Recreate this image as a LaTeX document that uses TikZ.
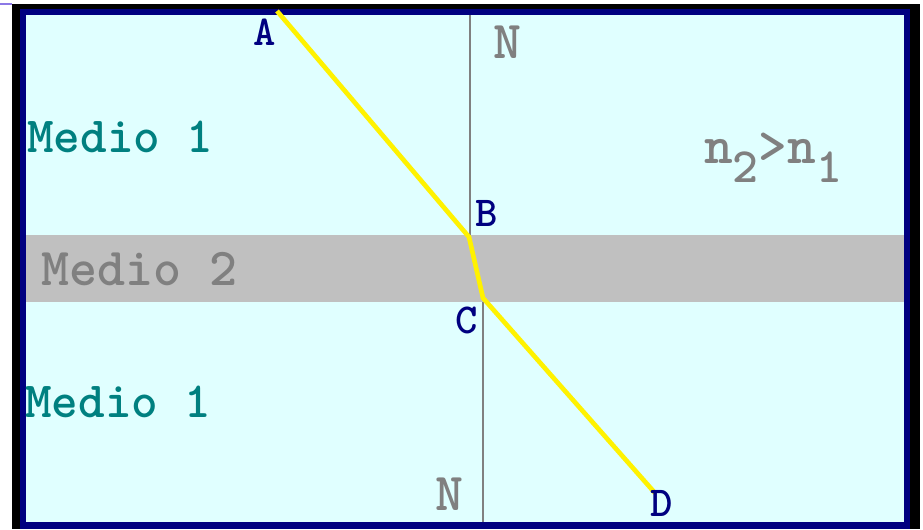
\documentclass[tikz,border=0pt]{standalone}

\definecolor{lcyan}{RGB}{224,255,255}
\definecolor{navyb}{RGB}{0,0,128}
\definecolor{tealt}{RGB}{0,128,128}
\definecolor{grayt}{RGB}{128,128,128}
\definecolor{band}{RGB}{192,192,192}
\definecolor{lav}{RGB}{140,120,230}

\tikzset{
  medio/.style={font=\ttfamily\bfseries\fontsize{38}{38}\selectfont, inner sep=0pt},
  punto/.style={text=navyb, font=\ttfamily\bfseries\fontsize{32}{32}\selectfont, inner sep=0pt},
  normal/.style={draw=grayt, line width=1pt},
  rayo/.style={draw=yellow, line width=3.5pt, line join=round}
}

\begin{document}
\begin{tikzpicture}[x=0.75pt,y=-0.75pt]
\useasboundingbox (0,0) rectangle (923,529);

\fill[lav] (0,3) rectangle (12,5);
\fill[black] (12,4) rectangle (920,529);
\fill[navyb] (20,9) rectangle (910,529);
\fill[lcyan] (26,15) rectangle (904,522);
\fill[band] (26,235) rectangle (904,302);

\coordinate (N1) at (470,15);
\coordinate (N2) at (470,235);
\coordinate (N3) at (483,302);
\coordinate (N4) at (483,522);
\draw[normal] (N1) -- (N2);
\draw[normal] (N3) -- (N4);

\coordinate (A) at (277,11);
\coordinate (B) at (469,237);
\coordinate (C) at (483,298);
\coordinate (D) at (655,493);
\draw[rayo] (A) -- (B) -- (C) -- (D);

\node[medio, text=tealt, anchor=west] (m1) at (27,137) {Medio 1};
\node[medio, text=grayt, anchor=west, font=\ttfamily\bfseries\fontsize{40}{40}\selectfont] (m2) at (41,269) {Medio 2};
\node[medio, text=tealt, anchor=west] (m3) at (25,402) {Medio 1};

\node[punto] (la) at (265,32) {A};
\node[punto] (lb) at (487,213) {B};
\node[punto] (lc) at (467,320) {C};
\node[punto] (ld) at (662,503) {D};

\node[medio, text=grayt, font=\ttfamily\bfseries\fontsize{40}{40}\selectfont] (na) at (507,42) {N};
\node[medio, text=grayt, font=\ttfamily\bfseries\fontsize{40}{40}\selectfont] (nb) at (449,494) {N};

\node[medio, text=grayt, anchor=west, font=\ttfamily\bfseries\fontsize{41}{41}\selectfont] (idx) at (704,158)
  {n\raisebox{-0.35em}{\fontsize{37}{37}\selectfont 2}>n\raisebox{-0.35em}{\fontsize{37}{37}\selectfont 1}};
\end{tikzpicture}
\end{document}
